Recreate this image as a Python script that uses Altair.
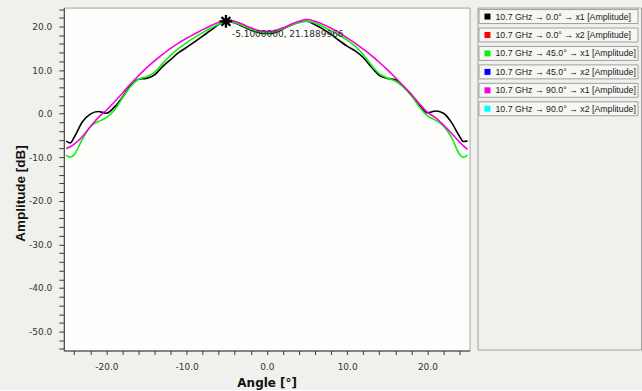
import altair as alt
import pandas as pd

# Scan angles in degrees (shared by every trace)
angles = [-25, -24.5, -24, -23, -22, -21, -20, -19, -18, -17, -16, -15, -14, -13,
          -12, -11, -10, -9, -8, -7, -6, -5, -4, -3, -2, -1, 0, 1, 2, 3, 4, 5, 6,
          7, 8, 9, 10, 11, 12, 13, 14, 15, 16, 17, 18, 19, 20, 21, 22, 23, 24,
          24.5, 25]

# Amplitude in dB, 10.7 GHz, x1 port
amp_0_x1 = [-6.3, -6.7, -5.4, -1.9, -0.1, 0.5, 0.1, 1.5, 3.8, 6.4, 7.9, 8.1, 8.9,
            10.8, 12.4, 14.0, 15.2, 16.5, 17.8, 19.1, 20.5, 21.3, 20.8, 20.0, 19.2,
            18.6, 18.4, 18.6, 19.4, 20.3, 21.0, 21.2, 20.4, 19.4, 18.2, 16.8, 15.5,
            14.4, 12.9, 10.7, 8.8, 8.1, 7.8, 6.3, 4.4, 2.0, 0.2, 0.6, 0.1, -2.0,
            -5.2, -6.4, -6.2]
amp_45_x1 = [-9.5, -10.0, -9.4, -5.9, -3.0, -1.8, -0.9, 0.8, 3.6, 6.2, 7.9, 8.5, 9.5,
             11.5, 13.4, 15.0, 16.3, 17.5, 18.6, 19.6, 20.5, 21.1, 20.9, 20.2, 19.4,
             18.8, 18.6, 18.8, 19.5, 20.3, 20.9, 21.2, 20.8, 20.0, 19.0, 18.0, 16.9,
             15.5, 13.6, 11.2, 9.2, 8.2, 7.5, 6.1, 4.1, 1.6, -0.5, -1.5, -2.8, -5.4,
             -9.3, -10.0, -9.5]
amp_90_x1 = [-8.0, -7.6, -7.0, -5.3, -3.0, -0.9, 0.8, 2.7, 4.7, 6.8, 8.7, 10.5, 12.1,
             13.6, 15.0, 16.2, 17.3, 18.3, 19.3, 20.2, 21.0, 21.6, 21.2, 20.5, 19.7,
             19.1, 18.9, 19.1, 19.7, 20.5, 21.2, 21.6, 21.2, 20.5, 19.6, 18.6, 17.4,
             16.2, 14.8, 13.4, 11.8, 10.1, 8.3, 6.4, 4.4, 2.3, 0.3, -0.9, -2.6, -4.5,
             -6.5, -7.4, -8.2]

series_names = [
    "10.7 GHz → 0.0° → x1 [Amplitude]",
    "10.7 GHz → 0.0° → x2 [Amplitude]",
    "10.7 GHz → 45.0° → x1 [Amplitude]",
    "10.7 GHz → 45.0° → x2 [Amplitude]",
    "10.7 GHz → 90.0° → x1 [Amplitude]",
    "10.7 GHz → 90.0° → x2 [Amplitude]",
]
series_colors = ["#000000", "#ff0000", "#10f010", "#0000ff", "#f500e0", "#00ffff"]

# Marker placed on the main lobe
marker_angle = -5.1
marker_amp = 21.1889966

x_ticks = list(range(-24, 25, 2))
y_ticks = list(range(-54, 25, 2))

traces = {
    series_names[0]: amp_0_x1,
    series_names[2]: amp_45_x1,
    series_names[4]: amp_90_x1,
}
lines_df = pd.concat(
    [pd.DataFrame({"angle": angles, "amp": vals, "series": name})
     for name, vals in traces.items()],
    ignore_index=True,
)

marker_df = pd.DataFrame({
    "angle": [marker_angle],
    "amp": [marker_amp],
    "label": [f"{marker_angle:.7f}, {marker_amp:.7f}"],
})

label_expr = ("datum.value % 10 == 0 ? (datum.value < 0 ? '-' : '') + "
              "format(abs(datum.value), '.1f') : ''")

x_scale = alt.Scale(domain=[-25.3, 25.25], nice=False, zero=False)
y_scale = alt.Scale(domain=[-54.35, 24.35], nice=False, zero=False)

x_enc = alt.X(
    "angle:Q", scale=x_scale,
    axis=alt.Axis(
        title="Angle [°]", values=x_ticks, tickCount=200, labelExpr=label_expr,
        labelOverlap=False, labelFlush=False, grid=False, tickSize=4,
        labelPadding=8,
        labelFont="DejaVu Sans", labelFontSize=9, labelColor="#333333",
        titleFont="DejaVu Sans", titleFontSize=12, titleFontWeight="bold",
        titleColor="#111111", titlePadding=6,
        domainColor="#3a3a3a", tickColor="#3a3a3a",
    ),
)
y_enc = alt.Y(
    "amp:Q", scale=y_scale,
    axis=alt.Axis(
        title="Amplitude [dB]", values=y_ticks, tickCount=200, labelExpr=label_expr,
        labelOverlap=False, labelFlush=False, grid=False, tickSize=5,
        labelPadding=7,
        labelFont="DejaVu Sans", labelFontSize=9, labelColor="#333333",
        titleFont="Liberation Sans Narrow, Liberation Sans", titleFontSize=13.5,
        titleFontWeight="bold", titleColor="#111111",
        titleX=-43, titleY=186, titleAlign="center", titleBaseline="middle",
        domainColor="#3a3a3a", tickColor="#3a3a3a",
    ),
)

color_scale = alt.Scale(domain=series_names, range=series_colors)

base = alt.Chart(lines_df)
line_layers = [
    base.transform_filter(alt.datum.series == name)
    .mark_line(strokeWidth=1.6, interpolate="monotone", clip=True)
    .encode(x=x_enc, y=y_enc,
            color=alt.Color("series:N", scale=color_scale, legend=None))
    for name in [series_names[0], series_names[2], series_names[4]]
]

star_path = "M-1,0L1,0M0,-1L0,1M-0.7,-0.7L0.7,0.7M-0.7,0.7L0.7,-0.7"
marker = alt.Chart(marker_df).mark_point(
    shape=star_path, filled=False, stroke="#000000", strokeWidth=2.3, size=160,
    opacity=1,
).encode(x=alt.X("angle:Q", scale=x_scale), y=alt.Y("amp:Q", scale=y_scale))

marker_label = alt.Chart(marker_df).mark_text(
    align="left", baseline="middle", dx=6, dy=13,
    font="DejaVu Sans", fontSize=9, color="#2a2a2a",
).encode(x=alt.X("angle:Q", scale=x_scale), y=alt.Y("amp:Q", scale=y_scale),
         text="label:N")

main = alt.layer(*line_layers, marker, marker_label).properties(
    width=407, height=344,
    view=alt.ViewBackground(fill="#fdfdfb", stroke="#a4a4a4", strokeWidth=1),
)

# Legend panel: one boxed row per trace
row_step = 18.5
legend_df = pd.DataFrame({
    "series": series_names,
    "row": list(range(len(series_names))),
})
legend_base = alt.Chart(legend_df).transform_calculate(
    top=f"datum.row * {row_step} + 2",
    bottom=f"datum.row * {row_step} + 16",
    mid=f"datum.row * {row_step} + 9",
)
legend_y = alt.Scale(domain=[0, 343], reverse=True, nice=False, zero=False)

legend_boxes = legend_base.mark_rect(
    fill="#f6f6f2", stroke="#a0a0a0", strokeWidth=1,
).encode(
    x=alt.value(1.5), x2=alt.value(161),
    y=alt.Y("top:Q", scale=legend_y, axis=None),
    y2="bottom:Q",
)
legend_swatches = legend_base.mark_square(size=36, opacity=1).encode(
    x=alt.value(10),
    y=alt.Y("mid:Q", scale=legend_y, axis=None),
    color=alt.Color("series:N", scale=color_scale, legend=None),
)
legend_text = legend_base.mark_text(
    align="left", baseline="middle", font="Liberation Sans", fontSize=8.8,
    color="#1a1a1a",
).encode(
    x=alt.value(18),
    y=alt.Y("mid:Q", scale=legend_y, axis=None),
    text="series:N",
)
legend_panel = alt.layer(legend_boxes, legend_swatches, legend_text).properties(
    width=164, height=343,
    view=alt.ViewBackground(fill="#f0f0ec", stroke="#a0a0a0", strokeWidth=1),
)

chart = alt.hconcat(main, legend_panel, spacing=6).properties(
    background="#f0f0ec",
    padding={"left": 13, "top": 4, "right": 0, "bottom": 0},
).resolve_scale(color="shared", y="independent", x="independent")

chart.save("out.html", embed_options={"renderer": "svg", "actions": False})
